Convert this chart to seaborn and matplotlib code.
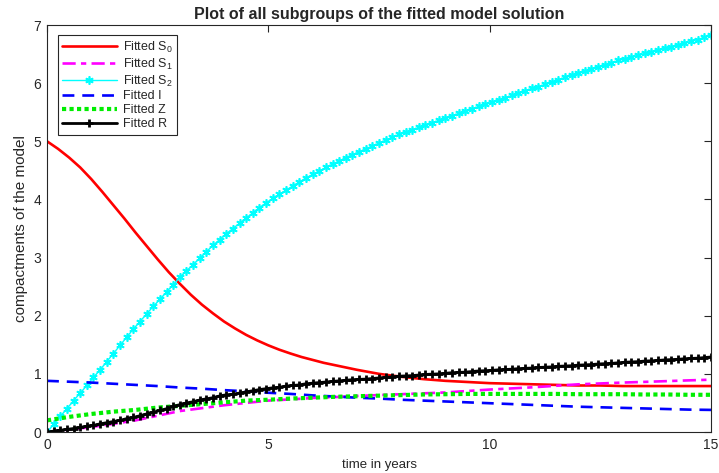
import numpy as np
import matplotlib
matplotlib.use("Agg")
import matplotlib.pyplot as plt
import seaborn as sns

# time grids: dense (solver output) for marked curves, medium for S0, coarse for the rest
t_dense = np.linspace(0, 15, 101)
t_mid = np.linspace(0, 15, 61)
t_coarse = np.linspace(0, 15, 31)

S2 = [0.00, 0.13, 0.27, 0.40, 0.54, 0.67, 0.80, 0.94, 1.07, 1.21,
      1.35, 1.49, 1.63, 1.77, 1.90, 2.03, 2.16, 2.28, 2.41, 2.53,
      2.66, 2.77, 2.88, 2.99, 3.10, 3.21, 3.31, 3.41, 3.50, 3.59,
      3.68, 3.77, 3.86, 3.94, 4.02, 4.09, 4.16, 4.23, 4.30, 4.37,
      4.43, 4.49, 4.55, 4.61, 4.66, 4.72, 4.77, 4.82, 4.87, 4.92,
      4.97, 5.02, 5.07, 5.12, 5.16, 5.20, 5.24, 5.28, 5.32, 5.36,
      5.40, 5.44, 5.48, 5.52, 5.56, 5.60, 5.64, 5.67, 5.71, 5.75,
      5.79, 5.83, 5.87, 5.91, 5.94, 5.98, 6.02, 6.06, 6.10, 6.14,
      6.18, 6.21, 6.25, 6.28, 6.32, 6.35, 6.39, 6.42, 6.45, 6.48,
      6.51, 6.54, 6.57, 6.60, 6.63, 6.66, 6.69, 6.72, 6.75, 6.79,
      6.83]

R = [0.000, 0.015, 0.030, 0.045, 0.060, 0.080, 0.100, 0.115, 0.140, 0.160,
     0.180, 0.200, 0.230, 0.250, 0.280, 0.310, 0.340, 0.370, 0.400, 0.440,
     0.470, 0.500, 0.520, 0.550, 0.570, 0.590, 0.620, 0.640, 0.650, 0.670,
     0.690, 0.710, 0.730, 0.745, 0.760, 0.770, 0.790, 0.800, 0.810, 0.830,
     0.840, 0.850, 0.860, 0.870, 0.880, 0.890, 0.900, 0.905, 0.910, 0.920,
     0.930, 0.940, 0.950, 0.960, 0.965, 0.970, 0.980, 0.990, 0.995, 1.000,
     1.010, 1.020, 1.025, 1.030, 1.040, 1.050, 1.055, 1.060, 1.070, 1.075,
     1.080, 1.090, 1.095, 1.100, 1.110, 1.115, 1.120, 1.130, 1.135, 1.140,
     1.150, 1.155, 1.160, 1.170, 1.175, 1.180, 1.190, 1.200, 1.205, 1.210,
     1.220, 1.225, 1.230, 1.240, 1.245, 1.250, 1.260, 1.265, 1.270, 1.280,
     1.290]

S0 = [5.00, 4.87, 4.72, 4.55, 4.35, 4.13, 3.90, 3.67, 3.43, 3.20,
      2.97, 2.75, 2.55, 2.36, 2.19, 2.04, 1.90, 1.78, 1.67, 1.575,
      1.49, 1.415, 1.35, 1.29, 1.24, 1.19, 1.15, 1.11, 1.07, 1.035,
      1.00, 0.975, 0.95, 0.93, 0.91, 0.895, 0.88, 0.87, 0.86, 0.85,
      0.84, 0.835, 0.83, 0.825, 0.82, 0.815, 0.81, 0.805, 0.80, 0.80,
      0.80, 0.795, 0.79, 0.79, 0.79, 0.79, 0.79, 0.79, 0.79, 0.79,
      0.79]

S1 = [0.00, 0.04, 0.085, 0.14, 0.20, 0.28, 0.36, 0.41, 0.46, 0.50,
      0.54, 0.56, 0.585, 0.60, 0.62, 0.635, 0.65, 0.665, 0.68, 0.705,
      0.73, 0.75, 0.77, 0.795, 0.82, 0.835, 0.85, 0.862, 0.875, 0.888,
      0.90]

I = [0.88, 0.865, 0.85, 0.83, 0.81, 0.79, 0.765, 0.745, 0.72, 0.70,
     0.675, 0.655, 0.63, 0.61, 0.59, 0.575, 0.555, 0.54, 0.525, 0.51,
     0.495, 0.48, 0.465, 0.45, 0.435, 0.425, 0.415, 0.405, 0.395, 0.385,
     0.38]

Z = [0.20, 0.26, 0.31, 0.35, 0.38, 0.42, 0.45, 0.48, 0.51, 0.54,
     0.555, 0.575, 0.59, 0.605, 0.615, 0.625, 0.635, 0.645, 0.65, 0.655,
     0.655, 0.655, 0.655, 0.655, 0.65, 0.65, 0.65, 0.645, 0.645, 0.64,
     0.64]

sns.set_style("white")
plt.rcParams['font.family'] = ['Liberation Sans', 'DejaVu Sans']
plt.rcParams['mathtext.fontset'] = 'custom'
plt.rcParams['mathtext.rm'] = 'Liberation Sans'
plt.rcParams['mathtext.it'] = 'Liberation Sans'

fig = plt.figure(figsize=(7.19, 4.73), dpi=100)
ax = fig.add_axes([47 / 719, 1 - 432 / 473, 664 / 719, 407 / 473])

sns.lineplot(x=t_mid, y=S0, ax=ax, color='red', linewidth=1.9, label='Fitted S$_0$')
sns.lineplot(x=t_coarse, y=S1, ax=ax, color='magenta', linewidth=1.9,
             linestyle=(0, (5, 2, 2, 2)), label='Fitted S$_1$')
sns.lineplot(x=t_dense, y=S2, ax=ax, color='cyan', linewidth=1.0, marker=(6, 2, 0),
             markersize=6, markeredgewidth=1.2, markeredgecolor='cyan',
             label='Fitted S$_2$')
sns.lineplot(x=t_coarse, y=I, ax=ax, color='blue', linewidth=1.9,
             linestyle=(0, (4.5, 3)), label='Fitted I')
sns.lineplot(x=t_coarse, y=Z, ax=ax, color='#00ee00', linewidth=3,
             linestyle=(0, (1, 0.8)), label='Fitted Z')
sns.lineplot(x=t_dense, y=R, ax=ax, color='black', linewidth=2, marker='+',
             markersize=5.5, markeredgewidth=2, markeredgecolor='black',
             label='Fitted R')

ax.set_xlim(0, 15)
ax.set_ylim(0, 7)
ax.set_xticks([0, 5, 10, 15])
ax.set_yticks(range(0, 8))
ax.tick_params(direction='in', top=True, right=True, length=5, width=0.8,
               labelsize=10, colors='#262626', pad=4)
for sp in ax.spines.values():
    sp.set_color('#262626')
    sp.set_linewidth(0.8)

ax.set_title('Plot of all subgroups of the fitted model solution', fontsize=11.5,
             fontweight='bold', pad=4)
ax.set_xlabel('time in years', fontsize=9.5, labelpad=5)
ax.set_ylabel('compactments of the model', fontsize=11, labelpad=4)

leg = ax.legend(loc='upper left', bbox_to_anchor=(0.016, 0.975), fontsize=9,
                frameon=True, fancybox=False, edgecolor='#262626', framealpha=1,
                handlelength=4.4, labelspacing=0.15, borderpad=0.35,
                handletextpad=0.5, borderaxespad=0)
leg.get_frame().set_linewidth(0.8)

fig.savefig('out.png', dpi=100)
